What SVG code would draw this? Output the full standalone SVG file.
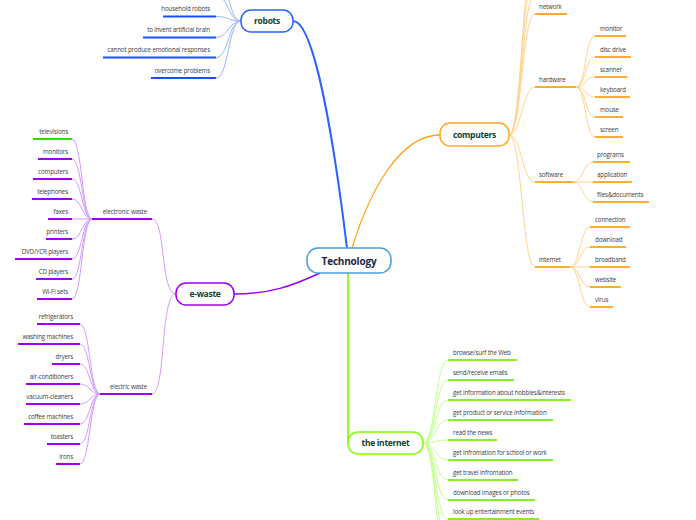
<svg xmlns="http://www.w3.org/2000/svg" width="696" height="520" viewBox="0 0 696 520">
<style>
.t{font-family:"Open Sans","DejaVu Sans",sans-serif;font-size:6.2px;letter-spacing:-0.15px;fill:#3c3c3c}
.e{text-anchor:end}
.lb{font-family:"Open Sans","DejaVu Sans",sans-serif;font-weight:bold;font-size:8.5px;letter-spacing:-0.3px;fill:#12402f;text-anchor:middle}
.root{font-family:"Open Sans","DejaVu Sans",sans-serif;font-weight:bold;font-size:10px;letter-spacing:-0.2px;fill:#1c2541;text-anchor:middle}
.box{fill:#fff;stroke-width:1.5}
.bb{fill:none;stroke:#9bb5ff;stroke-width:1}
.bu{fill:none;stroke:#1a4fff;stroke-width:2}
.ob{fill:none;stroke:#ffd48e;stroke-width:1}
.ou{fill:none;stroke:#ffac33;stroke-width:2}
.pb{fill:none;stroke:#d39cff;stroke-width:1}
.pu{fill:none;stroke:#a000f0;stroke-width:2}
.gb{fill:none;stroke:#c4ff8c;stroke-width:1}
.gu{fill:none;stroke:#84f02a;stroke-width:2}
</style>
<rect width="696" height="520" fill="#fff"/>
<g id="connectors">
<path d="M293,21 C315,21 335,150 347,248" fill="none" stroke="#2962ff" stroke-width="2"/>
<path d="M352,248 C370,190 400,135 440,135" fill="none" stroke="#ffa21f" stroke-width="1.3"/>
<path d="M234,294 C270,294 292,286 320,273" fill="none" stroke="#a000f0" stroke-width="1.5"/>
<path d="M348,273 L348,443" fill="none" stroke="#80ff00" stroke-width="1.8"/>
<path class="bb" d="M241,21 C228,21 229,-24 216,-24"/>
<path class="bb" d="M241,21 C228,21 229,-4 216,-4"/>
<path class="bb" d="M241,21 C228,21 229,16.5 216,16.5"/>
<path class="bb" d="M241,21 C228,21 229,37.5 216,37.5"/>
<path class="bb" d="M241,21 C228,21 229,57.5 216,57.5"/>
<path class="bb" d="M241,21 C228,21 229,78 216,78"/>
<path class="ob" d="M509,135 C522,135 522,-46 535,-46"/>
<path class="ob" d="M509,135 C522,135 522,-26 535,-26"/>
<path class="ob" d="M509,135 C522,135 522,-6 535,-6"/>
<path class="ob" d="M509,135 C522,135 522,14 535,14"/>
<path class="ob" d="M509,135 C522,135 522,87 535,87"/>
<path class="ob" d="M509,135 C522,135 522,182 535,182"/>
<path class="ob" d="M509,135 C522,135 522,267 535,267"/>
<path class="ob" d="M576,87 C586,87 585,36 595,36"/>
<path class="ob" d="M576,87 C586,87 585,57 595,57"/>
<path class="ob" d="M576,87 C586,87 585,77 595,77"/>
<path class="ob" d="M576,87 C586,87 585,97 595,97"/>
<path class="ob" d="M576,87 C586,87 585,117 595,117"/>
<path class="ob" d="M576,87 C586,87 585,137 595,137"/>
<path class="ob" d="M573,182 C583,182 583,162 593,162"/>
<path class="ob" d="M573,182 L593,182"/>
<path class="ob" d="M573,182 C583,182 583,202 593,202"/>
<path class="ob" d="M570,267 C580,267 580,227 590,227"/>
<path class="ob" d="M570,267 C580,267 580,247 590,247"/>
<path class="ob" d="M570,267 L590,267"/>
<path class="ob" d="M570,267 C580,267 580,287 590,287"/>
<path class="ob" d="M570,267 C580,267 580,307 590,307"/>
<path class="pb" d="M176,294 C160,294 166,219 152,219"/>
<path class="pb" d="M176,294 C160,294 166,394 152,394"/>
<path class="pb" d="M92,219 C82,219 82,139 72,139"/>
<path class="pb" d="M92,219 C82,219 82,159 72,159"/>
<path class="pb" d="M92,219 C82,219 82,179 72,179"/>
<path class="pb" d="M92,219 C82,219 82,199 72,199"/>
<path class="pb" d="M92,219 L72,219"/>
<path class="pb" d="M92,219 C82,219 82,239 72,239"/>
<path class="pb" d="M92,219 C82,219 82,259 72,259"/>
<path class="pb" d="M92,219 C82,219 82,279 72,279"/>
<path class="pb" d="M92,219 C82,219 82,299 72,299"/>
<path class="pb" d="M100,394 C90,394 90,324 80,324"/>
<path class="pb" d="M100,394 C90,394 90,344 80,344"/>
<path class="pb" d="M100,394 C90,394 90,364 80,364"/>
<path class="pb" d="M100,394 C90,394 90,384 80,384"/>
<path class="pb" d="M100,394 C90,394 90,404 80,404"/>
<path class="pb" d="M100,394 C90,394 90,424 80,424"/>
<path class="pb" d="M100,394 C90,394 90,444 80,444"/>
<path class="pb" d="M100,394 C90,394 90,464 80,464"/>
<path class="gb" d="M423,443 C436,443 435,360 448,360"/>
<path class="gb" d="M423,443 C436,443 435,380 448,380"/>
<path class="gb" d="M423,443 C436,443 435,400 448,400"/>
<path class="gb" d="M423,443 C436,443 435,420 448,420"/>
<path class="gb" d="M423,443 C436,443 435,440 448,440"/>
<path class="gb" d="M423,443 C436,443 435,460 448,460"/>
<path class="gb" d="M423,443 C436,443 435,480 448,480"/>
<path class="gb" d="M423,443 C436,443 435,500 448,500"/>
<path class="gb" d="M423,443 C436,443 435,519 448,519"/>
<path class="gb" d="M423,443 C436,443 435,539 448,539"/>
<path class="gb" d="M423,443 C436,443 435,559 448,559"/>
</g>
<g id="technology">
<rect class="box" x="307" y="248" width="84" height="25" rx="11" stroke="#4a9fe0"/>
<text class="root" x="349" y="264.5">Technology</text>
</g>
<g id="robots">
<rect class="box" x="241" y="10" width="52" height="22" rx="10" stroke="#2962ff"/>
<text class="lb" x="267" y="24">robots</text>
</g>
<g id="robots-items">
<path class="bu" d="M163,16.5H216"/><text class="t e" x="210" y="11">household robots</text>
<path class="bu" d="M143,37.5H216"/><text class="t e" x="210" y="32">to invent artificial brain</text>
<path class="bu" d="M103,57.5H216"/><text class="t e" x="210" y="52">cannot produce emotional responses</text>
<path class="bu" d="M151,78H216"/><text class="t e" x="210" y="72.5">overcome problems</text>
</g>
<g id="computers">
<rect class="box" x="440" y="123" width="69" height="23" rx="10" stroke="#ffa726"/>
<text class="lb" x="474.5" y="137.5">computers</text>
</g>
<g id="computers-items">
<path class="ou" d="M535,14H567"/><text class="t" x="539" y="8.5">network</text>
<path class="ou" d="M535,87H576"/><text class="t" x="539" y="81.5">hardware</text>
<path class="ou" d="M535,182H573"/><text class="t" x="539" y="176.5">software</text>
<path class="ou" d="M535,267H570"/><text class="t" x="539" y="261.5">internet</text>
<path class="ou" d="M595,36H626"/><text class="t" x="600" y="30.5">monitor</text>
<path class="ou" d="M595,57H631"/><text class="t" x="600" y="51.5">disc drive</text>
<path class="ou" d="M595,77H627"/><text class="t" x="600" y="71.5">scanner</text>
<path class="ou" d="M595,97H630"/><text class="t" x="600" y="91.5">keyboard</text>
<path class="ou" d="M595,117H623"/><text class="t" x="600" y="111.5">mouse</text>
<path class="ou" d="M595,137H623"/><text class="t" x="600" y="131.5">screen</text>
<path class="ou" d="M593,162H630"/><text class="t" x="597" y="156.5">programs</text>
<path class="ou" d="M593,182H632"/><text class="t" x="597" y="176.5">application</text>
<path class="ou" d="M593,202H649"/><text class="t" x="597" y="196.5">files&amp;documents</text>
<path class="ou" d="M590,227H630"/><text class="t" x="595" y="221.5">connection</text>
<path class="ou" d="M590,247H626"/><text class="t" x="595" y="241.5">download</text>
<path class="ou" d="M590,267H630"/><text class="t" x="595" y="261.5">broadband</text>
<path class="ou" d="M590,287H621"/><text class="t" x="595" y="281.5">website</text>
<path class="ou" d="M590,307H613"/><text class="t" x="595" y="301.5">virus</text>
</g>
<g id="e-waste">
<rect class="box" x="176" y="283" width="58" height="22" rx="10" stroke="#a000f0"/>
<text class="lb" x="205" y="297">e-waste</text>
</g>
<g id="e-waste-items">
<path class="pu" d="M92,219H152"/><text class="t e" x="147" y="213.5">electronic waste</text>
<path class="pu" d="M100,394H152"/><text class="t e" x="147" y="388.5">electric waste</text>
<path d="M33,139H72" fill="none" stroke="#2ee000" stroke-width="2"/><text class="t e" x="68" y="133.5">televisions</text>
<path class="pu" d="M38,159H72"/><text class="t e" x="68" y="153.5">monitors</text>
<path class="pu" d="M33,179H72"/><text class="t e" x="68" y="173.5">computers</text>
<path class="pu" d="M32,199H72"/><text class="t e" x="68" y="193.5">telephones</text>
<path class="pu" d="M48,219H72"/><text class="t e" x="68" y="213.5">faxes</text>
<path class="pu" d="M46,239H72"/><text class="t e" x="68" y="233.5">printers</text>
<path class="pu" d="M15,259H72"/><text class="t e" x="68" y="253.5">DVD/YCR players</text>
<path class="pu" d="M36,279H72"/><text class="t e" x="68" y="273.5">CD players</text>
<path class="pu" d="M37,299H72"/><text class="t e" x="68" y="293.5">Wi-Fi sets</text>
<path class="pu" d="M37,324H80"/><text class="t e" x="73" y="318.5">refrigerators</text>
<path class="pu" d="M18,344H80"/><text class="t e" x="73" y="338.5">washing machines</text>
<path class="pu" d="M52,364H80"/><text class="t e" x="73" y="358.5">dryers</text>
<path class="pu" d="M26,384H80"/><text class="t e" x="73" y="378.5">air-conditioners</text>
<path class="pu" d="M26,404H80"/><text class="t e" x="73" y="398.5">vacuum-cleaners</text>
<path class="pu" d="M24,424H80"/><text class="t e" x="73" y="418.5">coffee machines</text>
<path class="pu" d="M47,444H80"/><text class="t e" x="73" y="438.5">toasters</text>
<path class="pu" d="M56,464H80"/><text class="t e" x="73" y="458.5">irons</text>
</g>
<g id="the-internet">
<rect class="box" x="348" y="432" width="75" height="22" rx="10" stroke="#80ff00"/>
<text class="lb" x="385.5" y="446">the internet</text>
</g>
<g id="the-internet-items">
<path class="gu" d="M448,360H517"/><text class="t" x="453" y="354.5">browse/surf the Web</text>
<path class="gu" d="M448,380H514"/><text class="t" x="453" y="374.5">send/receive emails</text>
<path class="gu" d="M448,400H571"/><text class="t" x="453" y="394.5">get information about hobbies&amp;interests</text>
<path class="gu" d="M448,420H553"/><text class="t" x="453" y="414.5">get product or service information</text>
<path class="gu" d="M448,440H497"/><text class="t" x="453" y="434.5">read the news</text>
<path class="gu" d="M448,460H553"/><text class="t" x="453" y="454.5">get infromation for school or work</text>
<path class="gu" d="M448,480H518"/><text class="t" x="453" y="474.5">get travel infromation</text>
<path class="gu" d="M448,500H535"/><text class="t" x="453" y="494.5">download images or photos</text>
<path class="gu" d="M448,519H539"/><text class="t" x="453" y="513.5">look up entertainment events</text>
</g>
</svg>
